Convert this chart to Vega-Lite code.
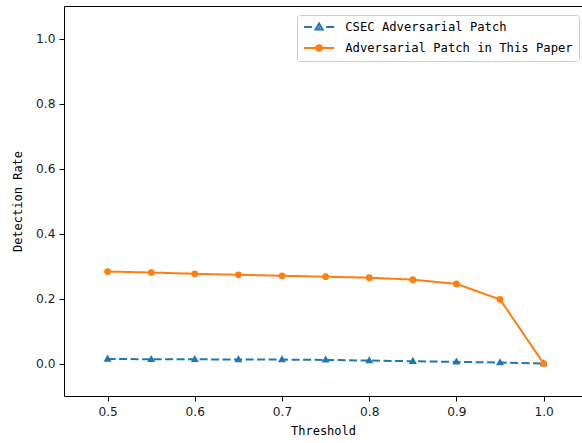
{
  "$schema": "https://vega.github.io/schema/vega-lite/v6.json",
  "width": 518,
  "height": 390,
  "autosize": {"type": "none"},
  "padding": {"left": 64, "top": 6, "right": 0, "bottom": 47},
  "background": "white",
  "config": {
    "view": {"stroke": null},
    "font": "DejaVu Sans",
    "axis": {
      "grid": false,
      "domainColor": "#000000",
      "domainWidth": 1,
      "tickColor": "#000000",
      "tickWidth": 1,
      "tickSize": 5,
      "labelFont": "DejaVu Sans",
      "labelFontSize": 12.2,
      "labelColor": "#1a1a1a",
      "labelPadding": 4,
      "titleFont": "DejaVu Sans Mono",
      "titleFontSize": 12,
      "titleFontWeight": "normal",
      "titleColor": "#000000"
    }
  },
  "data": {
    "values": [
      {"t": 0.5, "r": 0.014, "s": "CSEC Adversarial Patch"},
      {"t": 0.55, "r": 0.013, "s": "CSEC Adversarial Patch"},
      {"t": 0.6, "r": 0.013, "s": "CSEC Adversarial Patch"},
      {"t": 0.65, "r": 0.012, "s": "CSEC Adversarial Patch"},
      {"t": 0.7, "r": 0.012, "s": "CSEC Adversarial Patch"},
      {"t": 0.75, "r": 0.011, "s": "CSEC Adversarial Patch"},
      {"t": 0.8, "r": 0.009, "s": "CSEC Adversarial Patch"},
      {"t": 0.85, "r": 0.007, "s": "CSEC Adversarial Patch"},
      {"t": 0.9, "r": 0.005, "s": "CSEC Adversarial Patch"},
      {"t": 0.95, "r": 0.003, "s": "CSEC Adversarial Patch"},
      {"t": 1.0, "r": 0.0, "s": "CSEC Adversarial Patch"},
      {"t": 0.5, "r": 0.283, "s": "Adversarial Patch in This Paper"},
      {"t": 0.55, "r": 0.280, "s": "Adversarial Patch in This Paper"},
      {"t": 0.6, "r": 0.276, "s": "Adversarial Patch in This Paper"},
      {"t": 0.65, "r": 0.273, "s": "Adversarial Patch in This Paper"},
      {"t": 0.7, "r": 0.270, "s": "Adversarial Patch in This Paper"},
      {"t": 0.75, "r": 0.267, "s": "Adversarial Patch in This Paper"},
      {"t": 0.8, "r": 0.264, "s": "Adversarial Patch in This Paper"},
      {"t": 0.85, "r": 0.258, "s": "Adversarial Patch in This Paper"},
      {"t": 0.9, "r": 0.245, "s": "Adversarial Patch in This Paper"},
      {"t": 0.95, "r": 0.197, "s": "Adversarial Patch in This Paper"},
      {"t": 1.0, "r": 0.0, "s": "Adversarial Patch in This Paper"}
    ]
  },
  "layer": [
    {
      "mark": {"type": "line", "strokeWidth": 2},
      "encoding": {
        "x": {
          "field": "t", "type": "quantitative",
          "scale": {"domain": [0.45, 1.044], "nice": false, "zero": false},
          "axis": {"values": [0.5, 0.6, 0.7, 0.8, 0.9, 1.0], "format": ".1f", "title": "Threshold", "titlePadding": 8}
        },
        "y": {
          "field": "r", "type": "quantitative",
          "scale": {"domain": [-0.1, 1.1], "nice": false, "zero": false},
          "axis": {"values": [0, 0.2, 0.4, 0.6, 0.8, 1.0], "format": ".1f", "title": "Detection Rate", "titlePadding": 11}
        },
        "color": {
          "field": "s", "type": "nominal",
          "scale": {"domain": ["CSEC Adversarial Patch", "Adversarial Patch in This Paper"], "range": ["#1f77b4", "#ff7f0e"]},
          "legend": null
        },
        "strokeDash": {
          "field": "s", "type": "nominal",
          "scale": {"domain": ["CSEC Adversarial Patch", "Adversarial Patch in This Paper"], "range": [[8, 3.5], [1, 0]]},
          "legend": null
        }
      }
    },
    {
      "mark": {"type": "point", "filled": true, "opacity": 1, "size": 45},
      "encoding": {
        "x": {
          "field": "t", "type": "quantitative",
          "axis": {"orient": "top", "labels": false, "ticks": false, "title": null, "domain": true}
        },
        "y": {"field": "r", "type": "quantitative"},
        "color": {
          "field": "s", "type": "nominal",
          "scale": {"domain": ["CSEC Adversarial Patch", "Adversarial Patch in This Paper"], "range": ["#1f77b4", "#ff7f0e"]},
          "legend": null
        },
        "shape": {
          "field": "s", "type": "nominal",
          "scale": {"domain": ["CSEC Adversarial Patch", "Adversarial Patch in This Paper"], "range": ["M0,-1.3L1.2,0.8L-1.2,0.8Z", "circle"]},
          "legend": null
        }
      }
    },
    {
      "mark": {"type": "point", "opacity": 0, "size": 100, "strokeWidth": 2},
      "encoding": {
        "x": {"field": "t", "type": "quantitative", "axis": null},
        "y": {"field": "r", "type": "quantitative"},
        "fill": {
          "field": "s", "type": "nominal",
          "scale": {"domain": ["CSEC Adversarial Patch", "Adversarial Patch in This Paper"], "range": ["#1f77b4", "#ff7f0e"]},
          "legend": {
            "orient": "none",
            "legendX": 233,
            "legendY": 9,
            "title": null,
            "fillColor": "rgba(255,255,255,0.8)",
            "strokeColor": "#cccccc",
            "cornerRadius": 3,
            "padding": 6,
            "rowPadding": 7,
            "symbolSize": 100,
            "symbolStrokeWidth": 2,
            "symbolOpacity": 1,
            "labelOffset": 30,
            "labelLimit": 400,
            "labelFont": "DejaVu Sans Mono",
            "labelFontSize": 12.2,
            "labelColor": "#000000"
          }
        },
        "stroke": {
          "field": "s", "type": "nominal",
          "scale": {"domain": ["CSEC Adversarial Patch", "Adversarial Patch in This Paper"], "range": ["#1f77b4", "#ff7f0e"]}
        },
        "shape": {
          "field": "s", "type": "nominal",
          "scale": {"domain": ["CSEC Adversarial Patch", "Adversarial Patch in This Paper"], "range": ["M-1,0H0.6M3.4,0H5M2,-0.7L2.7,0.5L1.3,0.5ZM1.85,0.1H2.15", "M-1,0H5M2.55,0A0.55,0.55,0,1,1,1.45,0A0.55,0.55,0,1,1,2.55,0ZM2.15,0A0.15,0.15,0,1,1,1.85,0A0.15,0.15,0,1,1,2.15,0Z"]}
        }
      }
    }
  ],
  "resolve": {
    "axis": {"x": "independent"},
    "scale": {"color": "independent", "shape": "independent", "stroke": "independent", "fill": "independent"}
  }
}
